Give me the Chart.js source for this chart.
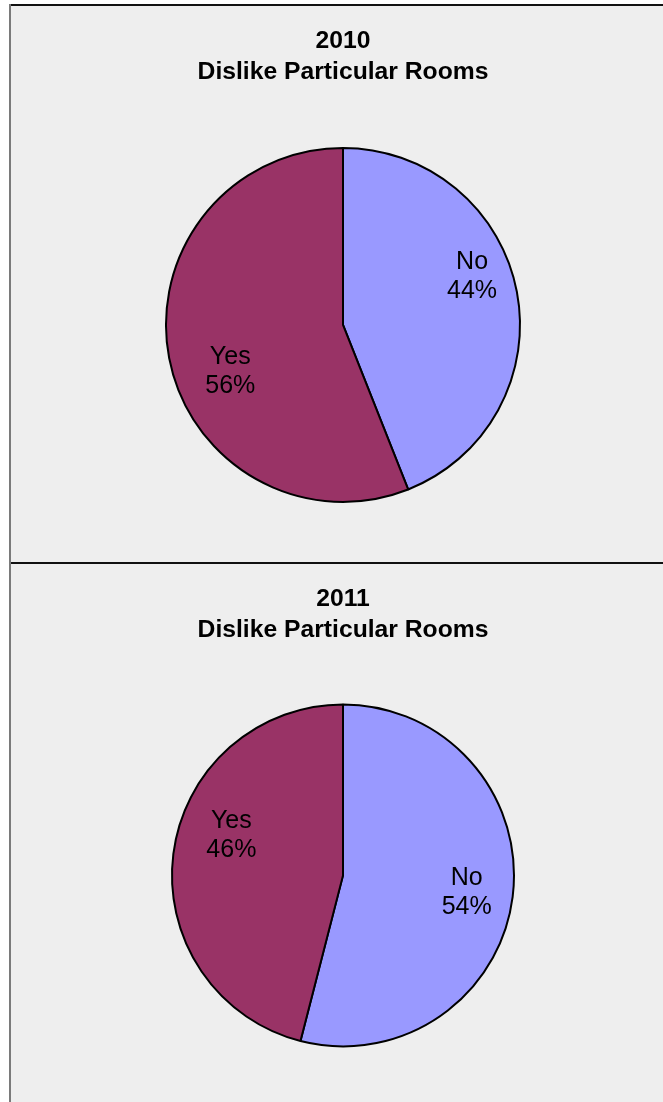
<!DOCTYPE html>
<html lang="en">

<head>
    <meta charset="UTF-8">
    <title>Dislike Particular Rooms</title>
    <script src="https://cdn.jsdelivr.net/npm/chart.js"></script>
    <style>
        body { margin: 0; background: #fff; width: 663px; height: 1102px; overflow: hidden; position: relative; }
        .frame { position: absolute; left: 9px; top: 4px; width: 654px; height: 1098px; border-left: 2px solid #7a7a7a; box-sizing: border-box; background: #eeeeee; }
        .panel { position: absolute; left: 0; width: 652px; border-top: 2px solid #111; overflow: hidden; }
        #p1 { top: 0; height: 558px; }
        #p2 { top: 558px; height: 540px; }
        canvas { display: block; }
    </style>
</head>

<body>
    <div class="frame">
        <div class="panel" id="p1"><canvas id="chart2010" width="652" height="556"></canvas></div>
        <div class="panel" id="p2"><canvas id="chart2011" width="652" height="541"></canvas></div>
    </div>

    <script>
        // Data
        const categories = ['No', 'Yes'];
        const values2010 = [44, 56];
        const values2011 = [54, 46];
        const titleText = 'Dislike Particular Rooms';
        const sliceColors = ['#9999ff', '#993366'];

        const FONT = '"Liberation Sans", Arial, Helvetica, sans-serif';

        // Draws "Category / NN%" inside each slice
        const sliceLabels = {
            id: 'sliceLabels',
            afterDatasetsDraw(chart, args, opts) {
                const ctx = chart.ctx;
                const meta = chart.getDatasetMeta(0);
                const data = chart.data.datasets[0].data;
                const total = data.reduce((s, v) => s + v, 0);
                ctx.save();
                ctx.fillStyle = '#000';
                ctx.font = '25px ' + FONT;
                ctx.textAlign = 'center';
                ctx.textBaseline = 'middle';
                meta.data.forEach((arc, i) => {
                    const p = arc.getProps(['x', 'y', 'startAngle', 'endAngle', 'outerRadius'], true);
                    const shift = opts.shift[i] * Math.PI / 180;
                    const a = (p.startAngle + p.endAngle) / 2 + shift;
                    const r = p.outerRadius * opts.dist[i];
                    const cx = p.x + Math.cos(a) * r;
                    const cy = p.y + Math.sin(a) * r;
                    const pct = Math.round(data[i] / total * 100) + '%';
                    ctx.fillText(chart.data.labels[i], cx, cy - 14.5);
                    ctx.fillText(pct, cx, cy + 14.5);
                });
                ctx.restore();
            }
        };

        function createPie(canvasId, year, values, radius, labelOpts) {
            return new Chart(document.getElementById(canvasId), {
                type: 'pie',
                data: {
                    labels: categories,
                    datasets: [{
                        data: values,
                        backgroundColor: sliceColors,
                        borderColor: '#000',
                        borderWidth: 2,
                        radius: radius
                    }]
                },
                options: {
                    responsive: false,
                    animation: false,
                    devicePixelRatio: 1,
                    layout: { padding: { left: 12, right: 0, top: 0, bottom: 0 } },
                    plugins: {
                        legend: { display: false },
                        tooltip: { enabled: false },
                        title: {
                            display: true,
                            text: [year, titleText],
                            color: '#000',
                            font: { family: FONT, size: 24.7, weight: 'bold', lineHeight: 1.25 },
                            padding: { top: 20, bottom: 0 }
                        },
                        sliceLabels: labelOpts
                    }
                },
                plugins: [sliceLabels]
            });
        }

        createPie('chart2010', '2010', values2010, 177, { shift: [-9.6, -11.8], dist: [0.778, 0.69] });
        createPie('chart2011', '2011', values2011, 171, { shift: [0.7, 12.4], dist: [0.73, 0.693] });
    </script>
</body>

</html>
